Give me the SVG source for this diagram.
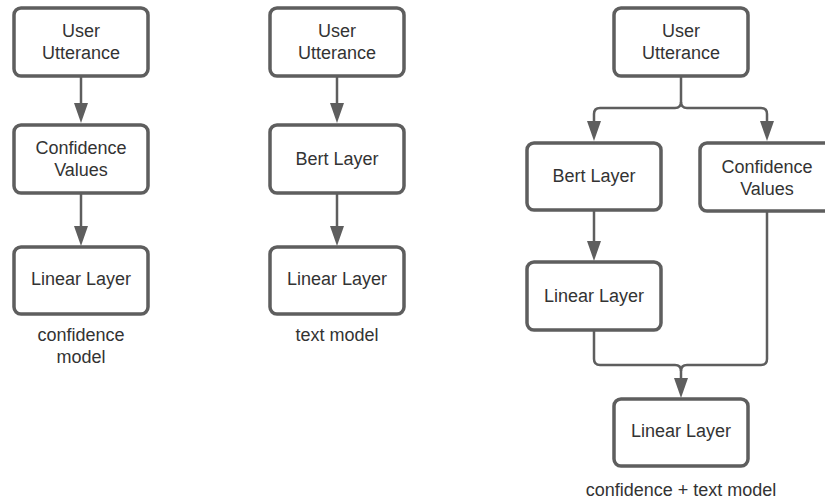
<svg xmlns="http://www.w3.org/2000/svg" width="825" height="502" viewBox="0 0 825 502">
<defs>
<marker id="ah" markerWidth="20" markerHeight="14" refX="0" refY="7" orient="auto" markerUnits="userSpaceOnUse" viewBox="0 0 20 14">
<path d="M0,0 L20,7 L0,14 Z" fill="#5e5e5e"/>
</marker>
<style>
.box{fill:#fff;stroke:#5e5e5e;stroke-width:3.5}
.t{font-family:"Liberation Sans",Arial,sans-serif;font-size:18px;fill:#333;text-anchor:middle}
.c{fill:none;stroke:#5e5e5e;stroke-width:2.5}
</style>
</defs>
<rect width="825" height="502" fill="#fff"/>
<g id="connectors">
<path class="c" d="M81,77 V103" marker-end="url(#ah)"/>
<path class="c" d="M81,194 V226" marker-end="url(#ah)"/>
<path class="c" d="M337,77 V103" marker-end="url(#ah)"/>
<path class="c" d="M337,194 V226" marker-end="url(#ah)"/>
<path class="c" d="M681,77 V102 Q681,108 675,108 H600 Q594,108 594,114 V121" marker-end="url(#ah)"/>
<path class="c" d="M681,102 Q681,108 687,108 H761 Q767,108 767,114 V121" marker-end="url(#ah)"/>
<path class="c" d="M594,211 V241" marker-end="url(#ah)"/>
<path class="c" d="M594,331 V359 Q594,365 600,365 H675 Q681,365 681,371 V378" marker-end="url(#ah)"/>
<path class="c" d="M767,212 V359 Q767,365 761,365 H687 Q681,365 681,371"/>
</g>
<g id="n1"><rect class="box" x="14" y="8" width="134" height="68" rx="7"/><text class="t" x="81" y="37">User</text><text class="t" x="81" y="59">Utterance</text></g>
<g id="n2"><rect class="box" x="14" y="125" width="134" height="68" rx="7"/><text class="t" x="81" y="154">Confidence</text><text class="t" x="81" y="176">Values</text></g>
<g id="n3"><rect class="box" x="14" y="247" width="134" height="67" rx="7"/><text class="t" x="81" y="285">Linear Layer</text></g>
<text class="t" x="81" y="341">confidence</text>
<text class="t" x="81" y="363">model</text>
<g id="m1"><rect class="box" x="270" y="8" width="134" height="68" rx="7"/><text class="t" x="337" y="37">User</text><text class="t" x="337" y="59">Utterance</text></g>
<g id="m2"><rect class="box" x="270" y="125" width="134" height="68" rx="7"/><text class="t" x="337" y="165">Bert Layer</text></g>
<g id="m3"><rect class="box" x="270" y="247" width="134" height="67" rx="7"/><text class="t" x="337" y="285">Linear Layer</text></g>
<text class="t" x="337" y="341">text model</text>
<g id="r1"><rect class="box" x="614" y="8" width="134" height="68" rx="7"/><text class="t" x="681" y="37">User</text><text class="t" x="681" y="59">Utterance</text></g>
<g id="r2"><rect class="box" x="527" y="143" width="134" height="67" rx="7"/><text class="t" x="594" y="182">Bert Layer</text></g>
<g id="r3"><rect class="box" x="700" y="143" width="134" height="68" rx="7"/><text class="t" x="767" y="173">Confidence</text><text class="t" x="767" y="195">Values</text></g>
<g id="r4"><rect class="box" x="527" y="262" width="134" height="68" rx="7"/><text class="t" x="594" y="302">Linear Layer</text></g>
<g id="r5"><rect class="box" x="614" y="399" width="134" height="67" rx="7"/><text class="t" x="681" y="437">Linear Layer</text></g>
<text class="t" x="681" y="496">confidence + text model</text>
</svg>
